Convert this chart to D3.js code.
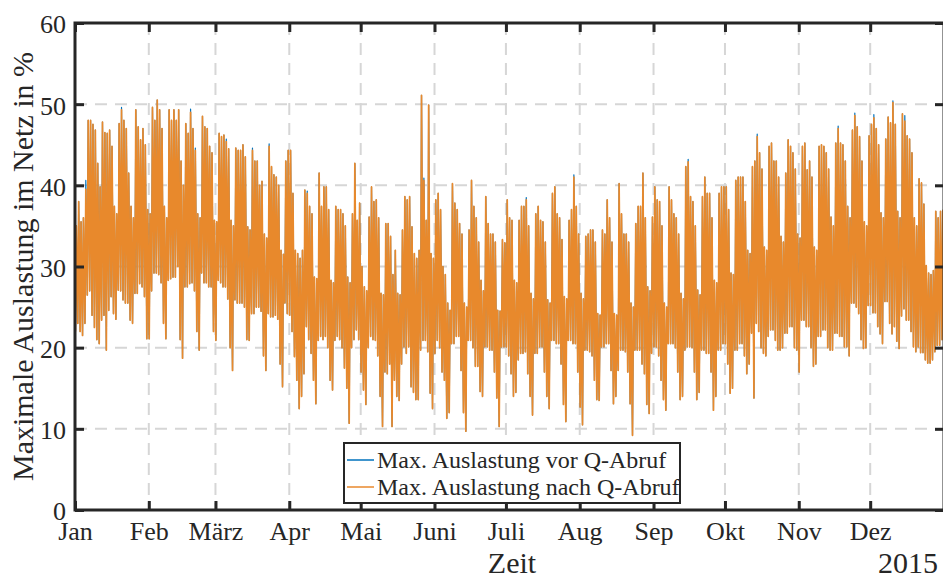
<!DOCTYPE html>
<html>
<head>
<meta charset="utf-8">
<script src="https://cdn.jsdelivr.net/npm/d3@7"></script>
<style>
  body { margin: 0; background: #fff; }
  svg { display: block; }
  text { font-family: "Liberation Serif", "Times New Roman", serif; fill: #262626; }
</style>
</head>
<body>
<svg id="chart" width="943" height="576"></svg>
<script>
// Month tick labels (German)
const monthLabels = ["Jan", "Feb", "März", "Apr", "Mai", "Juni", "Juli", "Aug", "Sep", "Okt", "Nov", "Dez"];
const yearLabel = "2015";
const yTicks = [0, 10, 20, 30, 40, 50, 60];

// Daily maximum of the grid loading after Q-Abruf (%), one value per day of 2015
const peakNach = [
  // Jan
  35,38,35.5,36,39.5,48,48,47.5,46.8,42.7,39.8,47.8,46.5,46.4,46.8,44.8,37.4,36.5,47.6,49.3,48,47,41.5,37.4,36,49.3,47.2,45.6,47,45,37,
  // Feb
  36.5,49.6,48,50.5,49.3,47,37.4,36,49.3,48,49.3,48,49.3,43,40,47.6,46.4,49,47,44.3,36.5,36,48.5,47.2,47,44.8,44,35.7,
  // Mär
  35.5,46.4,46,46.2,45.4,44.5,35.7,35,44.6,44.3,44.3,45,43.5,34.9,34.5,44.3,43,43,40,40.5,34,33.5,44.8,42.3,41.3,41,40,32,31.5,43,44.3,
  // Apr
  44.3,39,32,31.6,31,32,39.4,39,37.4,36.5,28.7,28.5,41.5,37.4,39.8,39.8,37,28.3,28,37.4,37,37,36.5,35,28.7,28,36.5,42.7,35.7,37.8,
  // Mai
  30,27.5,27,36.1,39.8,38,38.2,36,26.7,26.5,35.3,35.3,33.7,29,32,26.7,26.5,34.5,38.6,38.2,38.6,34.9,31.6,31,32,51.1,40.6,35.7,49.9,31.6,31,
  // Jun
  38.2,39,37,30,29,25.5,24.6,40.2,37.8,37,35.3,34,25.5,25,34.5,40.6,37.4,36,33,28.3,27,38.6,35.3,34,34,33,24.6,24.5,33.3,32.9,
  // Jul
  38.2,36,35.7,28.3,28,35.7,37.4,37.4,38.2,35,26.7,26,36.5,37.4,35.7,35.5,33,25.9,25.5,39,39.8,36.5,36,33.3,26.3,26,35.7,37,41,37.4,34,
  // Aug
  26.7,26,33.7,34,34.5,34.5,33,24.2,24,34.5,34,38.2,36,33,24.2,24,40.2,36.5,34,34,33,25.5,25,35.3,37.4,37.4,41.5,36,27.5,27,36.1,
  // Sep
  39.8,38.2,38,35,25.5,25,39.8,38.2,36.5,36,34,26.7,26,42.3,42.9,38.6,38,35,27.1,26.5,38.6,41,39,39,36,28.3,28,39,39.8,39.8,
  // Okt
  39.8,37,29.2,29,40.6,41,41,41,38,32,31.6,42.3,43,46,44,42,32.4,32,44.8,45.2,43,43,41,33.7,33,41.5,45.6,44.8,44,42,34,
  // Nov
  33.5,44.8,45.2,41.9,43,41,32.4,32,44.8,45,44.8,44,42,36.1,35,45.2,47,45.2,45,43,37.4,36,46.8,48.6,47.2,46,43,35.5,35,46.1,
  // Dez
  47.5,48.3,47,45,36.6,36,45.7,48.4,47.7,50.2,47.5,36.8,36,48.8,47.9,46.1,45.7,44,36,35,40.8,40.3,37.7,30.1,29.2,29,29.5,36.8,36,36.8,37
];

// Daily minimum of the grid loading after Q-Abruf (%)
const troughNach = [
  // Jan
  22,23,22,21.5,23,26.5,27,24,22.5,21,20.5,23.4,24,19.7,24.6,26.3,24.2,23.5,27.1,27,25.9,25.5,25.5,23.4,23,26.7,26.7,27.9,27.5,26.3,21.1,
  // Feb
  21.1,27,29.2,29.2,29,28,23,21.1,28.3,28.5,28.7,28.7,30,21,18.7,27.5,27.5,27.9,28,27,22,19.7,29.2,28,28,27.5,27.5,22,
  // Mär
  20.9,28.3,28,27.5,27.5,26,20,17.2,25.9,25.5,25.5,25.5,25,21,20.9,24.2,24.2,25,25,24.5,19,17.2,24.2,23.8,23.8,24,23.5,18,15.2,25.5,24.2,
  // Apr
  24,22,18.9,16,12.5,14,16.8,22.6,21,19.3,16,13.1,20.9,21.4,21,21.4,20,16,14.8,20.9,21.4,21,20,17.5,15,10.7,20,21,22.2,21,
  // Mai
  17,14.8,13,20,21.4,21,20.9,19,14,10.3,17,16.8,18,10.3,16,14,13.5,18,20.1,19.3,20.1,15.2,14.5,13.6,13.6,19.7,20.9,20.9,19.5,14.4,12.5,
  // Jun
  19.3,20.9,20,17,16,11.3,12,20.5,20.5,21.4,21.4,17.2,12,9.7,20.9,20.9,20,17.7,17.7,14.6,14,20.1,20.1,19.7,19.7,17,13.8,10.3,20.1,20.1,
  // Jul
  20.1,19,16.8,14,14.5,18.5,19.3,19.3,19.5,16.8,14,11.7,19.3,19.3,20.1,20.1,17,14,12.5,20.9,20.9,20.5,20.5,18,13,10.9,20.9,20.9,20.5,20.5,17,
  // Aug
  12.7,10.5,19.7,19.7,19.5,19,16,13.6,13.5,20.1,20.1,20.5,20.5,17.2,13.1,14,17.2,19.7,19.7,19.5,17,13.1,9.2,19.7,19.7,19.7,18,16.8,13,11.9,19.3,
  // Sep
  20.1,20.1,19,16,13.6,12.3,20.5,20.5,20.5,20,17,13.6,14,19.7,20.1,20.1,20,17,13.6,14.5,19.7,19.7,19.3,19.3,17,12.3,14,19.7,19.7,20.5,
  // Okt
  20.5,18,14.4,15,19.7,19.7,20.5,20.5,19,16.8,18,21.8,13.8,23,22,20,19.3,19,21.4,22.2,22.2,20.9,19.7,19.7,20,21.8,21.8,22.6,22.6,20,19.7,
  // Nov
  17,23.4,23.4,22.6,22.6,20,17.7,18,21.4,21.4,22.2,22.2,20,19.7,19.7,21.8,21.8,21.4,21.4,20.1,20.1,19,25.5,25.5,25,24.2,21,19.9,20,25.2,
  // Dez
  25.2,24.3,24.3,22.6,21.7,20.5,25.7,25.7,23,21.7,22.6,20.8,19.9,23.9,24.8,23.4,23.4,22,20.1,19.5,20.1,19.4,19.4,18.5,18.1,18.1,18.5,19.5,20.3,20.3,21
];

// Days (index from 1 Jan) where the loading before Q-Abruf peaked higher: [day, value %]
const peakVorHoeher = [
  [4, 40.6], [19, 49.6], [48, 49.4], [50, 44.6], [63, 45.7], [74, 44.6],
  [81, 45.1], [97, 39.3], [146, 40.9], [189, 38.5], [209, 41.3],
  [257, 43.2], [286, 46.3], [320, 47.3], [327, 48.9], [335, 48.7], [343, 50.4], [348, 48.6]
];

const seriesNames = ["Max. Auslastung vor Q-Abruf", "Max. Auslastung nach Q-Abruf"];
const seriesColors = ["#0072BD", "#E8892C"];

// ---- layout ----
const plot = { left: 75, right: 944, top: 23, bottom: 510 };
const ink = "#262626";

const svg = d3.select("#chart");

const x = d3.scaleUtc()
  .domain([Date.UTC(2015, 0, 1), Date.UTC(2016, 0, 1)])
  .range([plot.left, plot.right]);
const y = d3.scaleLinear().domain([0, 60]).range([plot.bottom, plot.top]);

const monthStarts = d3.utcMonth.range(new Date(Date.UTC(2015, 0, 1)), new Date(Date.UTC(2016, 0, 1)));

// samples per day: night minimum, midday maximum
function buildSeries(peaks, troughs) {
  const pts = [];
  peaks.forEach((p, d) => {
    pts.push({ t: Date.UTC(2015, 0, 1 + d, 4), v: troughs[d] });
    pts.push({ t: Date.UTC(2015, 0, 1 + d, 13), v: p });
  });
  return pts;
}
const peakVor = peakNach.slice();
peakVorHoeher.forEach(([d, v]) => { peakVor[d] = v; });
const dataVor = buildSeries(peakVor, troughNach);
const dataNach = buildSeries(peakNach, troughNach);

// clip
svg.append("defs").append("clipPath").attr("id", "plotClip")
  .append("rect")
  .attr("x", plot.left).attr("y", plot.top)
  .attr("width", plot.right - plot.left).attr("height", plot.bottom - plot.top);

// grid
const grid = svg.append("g").attr("stroke", "#d6d6d6").attr("stroke-width", 2)
  .attr("stroke-dasharray", "12,8").attr("fill", "none");
yTicks.slice(1, -1).forEach(t => {
  grid.append("line").attr("x1", plot.left).attr("x2", plot.right)
    .attr("y1", y(t)).attr("y2", y(t));
});
monthStarts.slice(1).forEach(m => {
  grid.append("line").attr("x1", x(m)).attr("x2", x(m))
    .attr("y1", plot.top).attr("y2", plot.bottom);
});

// lines
const line = d3.line().x(p => x(p.t)).y(p => y(p.v));
const dataG = svg.append("g").attr("clip-path", "url(#plotClip)");
dataG.append("path").datum(dataVor).attr("d", line)
  .attr("fill", "none").attr("stroke", seriesColors[0]).attr("stroke-width", 1.2)
  .attr("stroke-linejoin", "round");
dataG.append("path").datum(dataNach).attr("d", line)
  .attr("fill", "none").attr("stroke", seriesColors[1]).attr("stroke-width", 1.7)
  .attr("stroke-linejoin", "round");

// axes
const fontTick = 26;
const xAxis = d3.axisBottom(x).tickValues(monthStarts).tickSize(-9).tickSizeOuter(0)
  .tickPadding(12).tickFormat((d, i) => monthLabels[i]);
const gx = svg.append("g").attr("transform", `translate(0,${plot.bottom})`).call(xAxis);
const yAxis = d3.axisLeft(y).tickValues(yTicks).tickSize(-9).tickSizeOuter(0)
  .tickPadding(9).tickFormat(d3.format("d"));
const gy = svg.append("g").attr("transform", `translate(${plot.left},0)`).call(yAxis);
const gxt = svg.append("g").attr("transform", `translate(0,${plot.top})`)
  .call(d3.axisTop(x).tickValues(monthStarts).tickSize(-9).tickSizeOuter(0).tickFormat(""));
const gyr = svg.append("g").attr("transform", `translate(${plot.right},0)`)
  .call(d3.axisRight(y).tickValues(yTicks).tickSize(-9).tickSizeOuter(0).tickFormat(""));

[gx, gy, gxt, gyr].forEach(g => {
  g.select(".domain").remove();
  g.selectAll(".tick line").attr("stroke", ink).attr("stroke-width", 3);
  g.selectAll(".tick text").attr("font-size", fontTick)
    .attr("font-family", "Liberation Serif").attr("fill", ink);
});
gx.selectAll(".tick text").attr("dy", "0.71em");
gy.selectAll(".tick text").attr("dy", "0.38em");

// axes box
svg.append("rect")
  .attr("x", plot.left).attr("y", plot.top)
  .attr("width", plot.right - plot.left).attr("height", plot.bottom - plot.top)
  .attr("fill", "none").attr("stroke", ink).attr("stroke-width", 3);

// axis titles
svg.append("text").attr("x", 512).attr("y", 573).attr("text-anchor", "middle")
  .attr("font-size", 30).text("Zeit");
svg.append("text").attr("x", 938).attr("y", 573).attr("text-anchor", "end")
  .attr("font-size", 30).text(yearLabel);
svg.append("text")
  .attr("transform", `translate(33,${(plot.top + plot.bottom) / 2}) rotate(-90)`)
  .attr("text-anchor", "middle").attr("font-size", 30)
  .text("Maximale Auslastung im Netz in %");

// legend
const lg = svg.append("g");
lg.append("rect").attr("x", 344).attr("y", 443).attr("width", 336).attr("height", 60)
  .attr("fill", "#fff").attr("stroke", ink).attr("stroke-width", 2);
seriesNames.forEach((name, i) => {
  const yy = 460 + i * 27;
  lg.append("line").attr("x1", 347).attr("x2", 374).attr("y1", yy).attr("y2", yy)
    .attr("stroke", seriesColors[i]).attr("stroke-width", 1.5);
  lg.append("text").attr("x", 377).attr("y", yy + 8).attr("font-size", 24).text(name);
});
</script>
</body>
</html>
